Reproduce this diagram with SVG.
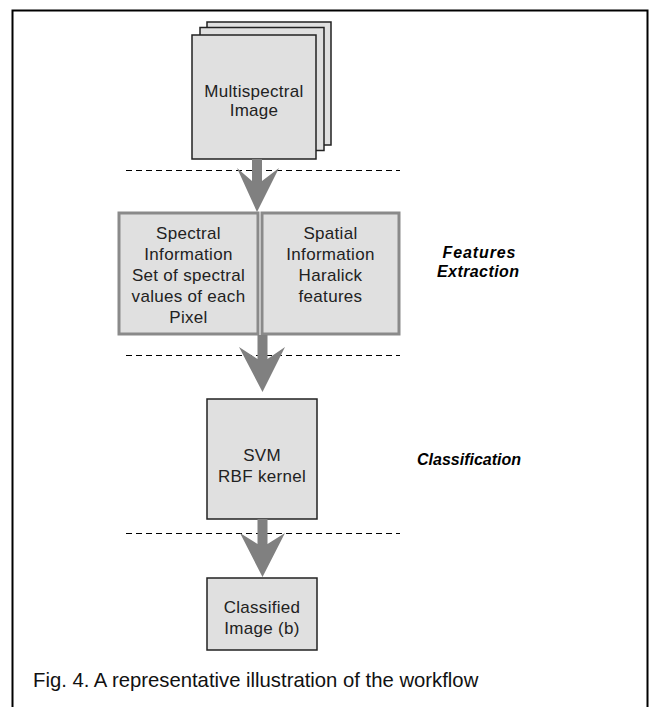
<svg xmlns="http://www.w3.org/2000/svg" width="650" height="707" viewBox="0 0 650 707">
<style>
.t{font-family:"Liberation Sans",Arial,sans-serif;font-size:17px;letter-spacing:0.3px;fill:#222;text-anchor:middle}
.lab{font-family:"Liberation Sans",Arial,sans-serif;font-size:16px;font-weight:bold;font-style:italic;fill:#000;text-anchor:middle}
.box{fill:#e0e0e0;stroke:#222;stroke-width:1.5}
.gbox{fill:#e0e0e0;stroke:#8a8a8a;stroke-width:3}
.dash{stroke:#000;stroke-width:1.2;stroke-dasharray:6 4;fill:none}
.arr{fill:#808080}
</style>
<rect x="0" y="0" width="650" height="707" fill="#fff"/>
<rect x="12.5" y="10.5" width="635" height="720" fill="none" stroke="#000" stroke-width="2"/>
<g id="multispectral">
<rect class="box" x="207" y="22" width="124" height="123"/>
<rect class="box" x="200" y="27.5" width="124" height="123"/>
<rect class="box" x="192" y="35" width="124" height="124"/>
<text class="t" x="254" y="97">Multispectral</text>
<text class="t" x="254" y="116">Image</text>
</g>
<g id="spectral">
<rect class="gbox" x="119" y="213" width="139" height="121"/>
<text class="t" x="188.5" y="239">Spectral</text>
<text class="t" x="188.5" y="260">Information</text>
<text class="t" x="188.5" y="281">Set of spectral</text>
<text class="t" x="188.5" y="302">values of each</text>
<text class="t" x="188.5" y="323">Pixel</text>
</g>
<g id="spatial">
<rect class="gbox" x="262" y="213" width="137" height="121"/>
<text class="t" x="330.5" y="239">Spatial</text>
<text class="t" x="330.5" y="260">Information</text>
<text class="t" x="330.5" y="281">Haralick</text>
<text class="t" x="330.5" y="302">features</text>
</g>
<g id="svm">
<rect class="box" x="207" y="399" width="110" height="120"/>
<text class="t" x="262" y="461">SVM</text>
<text class="t" x="262" y="482">RBF kernel</text>
</g>
<g id="classified">
<rect class="box" x="207" y="578" width="110" height="72"/>
<text class="t" x="262" y="613">Classified</text>
<text class="t" x="262" y="634">Image (b)</text>
</g>
<g id="labels">
<text class="lab" x="479" y="258" textLength="73" lengthAdjust="spacing">Features</text>
<text class="lab" x="478" y="277" textLength="82" lengthAdjust="spacing">Extraction</text>
<text class="lab" x="469" y="465">Classification</text>
</g>
<g id="connectors">
<line class="dash" x1="126" y1="170.5" x2="400" y2="170.5"/>
<line class="dash" x1="126" y1="355.5" x2="400" y2="355.5"/>
<line class="dash" x1="126" y1="533.5" x2="400" y2="533.5"/>
<path class="arr" d="M252,159 L262,159 L262,181 L279,168 L257,212 L237,168 L252,181 Z"/>
<path class="arr" d="M257.5,335 L267.5,335 L267.5,359 L285,347 L262.5,392 L239,347 L257.5,359 Z"/>
<path class="arr" d="M257.5,519 L267.5,519 L267.5,544 L285,533 L262.5,577 L240,533 L257.5,544 Z"/>
</g>
<text x="33" y="687" font-family="Liberation Sans, Arial, sans-serif" font-size="20.3" fill="#111">Fig. 4. A representative illustration of the workflow</text>
</svg>
